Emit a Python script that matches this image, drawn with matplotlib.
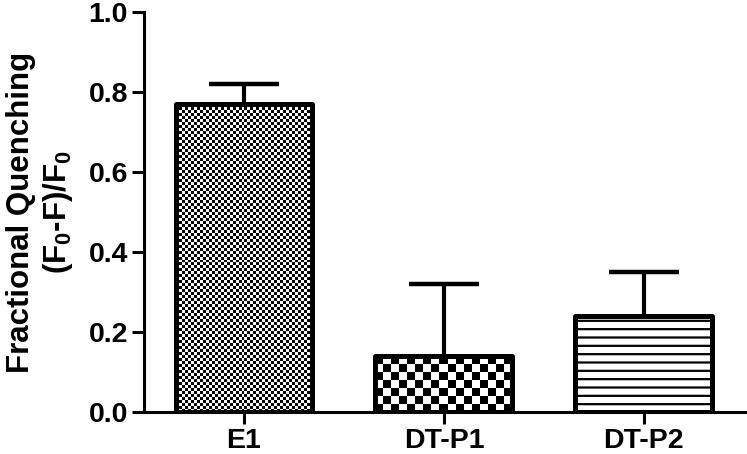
import numpy as np
import matplotlib
matplotlib.use('Agg')
import matplotlib.pyplot as plt

# 数据
groups = ['E1', 'DT-P1', 'DT-P2']
means = [0.77, 0.14, 0.24]
errs = [0.05, 0.18, 0.11]
y_ticks = [0.0, 0.2, 0.4, 0.6, 0.8, 1.0]

plt.rcParams['font.family'] = ['Liberation Sans', 'DejaVu Sans']
plt.rcParams['font.weight'] = 'bold'
plt.rcParams['mathtext.fontset'] = 'custom'
plt.rcParams['mathtext.rm'] = 'Liberation Sans:bold'
plt.rcParams['mathtext.bf'] = 'Liberation Sans:bold'
plt.rcParams['hatch.linewidth'] = 1.6

fig = plt.figure(figsize=(7.47, 4.54), dpi=100)
ax = fig.add_axes([0.1928, 0.0925, 0.807, 0.881])

x = np.arange(len(groups))
xlim = (-0.5, 2.515)
ylim = (0, 1.0)
ax.set_xlim(*xlim)
ax.set_ylim(*ylim)

hatches = ['', '', '--']
bars = ax.bar(x, means, width=0.685, facecolor='none', edgecolor='black',
              linewidth=3.6, zorder=3)
for b, h in zip(bars, hatches):
    b.set_hatch(h)
    b.set_joinstyle('round')


def checker(ax, bar, cell_px):
    # 用图像填充棋盘格图案，并裁剪到柱子形状
    x0, y0 = bar.get_x(), bar.get_y()
    w, h = bar.get_width(), bar.get_height()
    (px0, py0), (px1, py1) = ax.transData.transform([(x0, y0), (x0 + w, y0 + h)])
    nx = max(1, int(round((px1 - px0) / cell_px)))
    ny = max(1, int(round((py1 - py0) / cell_px)))
    pattern = np.add.outer(np.arange(ny), np.arange(nx)) % 2
    im = ax.imshow(pattern, cmap='gray', extent=(x0, x0 + w, y0, y0 + h),
                   interpolation='nearest', aspect='auto', origin='lower',
                   zorder=2)
    im.set_clip_path(bar)


checker(ax, bars[0], 3)
checker(ax, bars[1], 8)
ax.set_xlim(*xlim)
ax.set_ylim(*ylim)

# 误差线（只画上半部分）
eb = ax.errorbar(x, means, yerr=[[0] * len(errs), errs], fmt='none',
                 ecolor='black', elinewidth=3, capsize=25, capthick=3.2,
                 zorder=4)
eb[1][0].set_visible(False)

ax.spines['top'].set_visible(False)
ax.spines['right'].set_visible(False)
ax.spines['left'].set_linewidth(2.2)
ax.spines['bottom'].set_linewidth(2.2)

ax.set_yticks(y_ticks)
ax.set_yticklabels([f'{v:.1f}' for v in y_ticks])
ax.set_xticks(x)
ax.set_xticklabels(groups)
ax.tick_params(axis='both', labelsize=20.5, length=8.5, width=2.2, pad=3)

ax.set_ylabel('Fractional Quenching\n(F$_0$-F)/F$_0$', fontsize=22.5,
              fontweight='bold', multialignment='center', labelpad=10)

fig.savefig('out.png', dpi=100)
